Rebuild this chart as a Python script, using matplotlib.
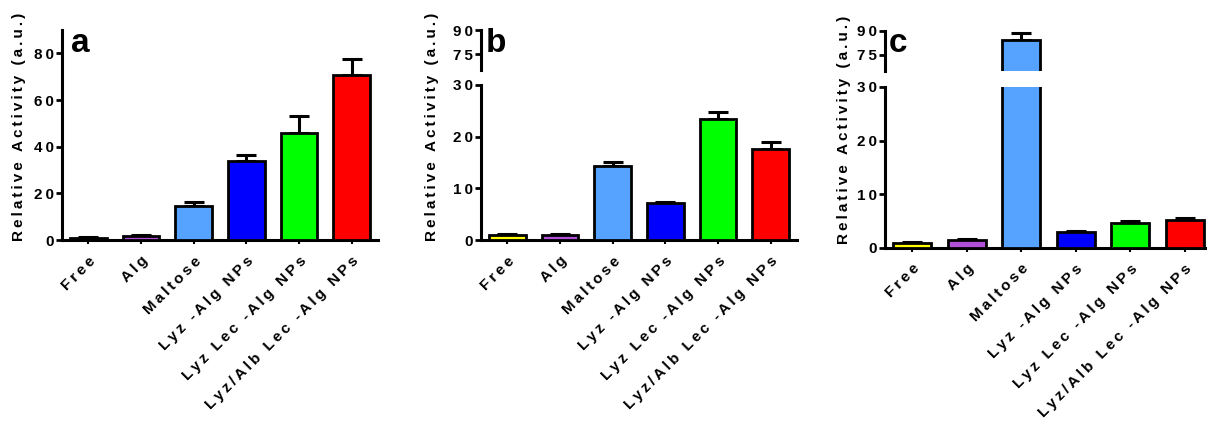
import numpy as np
import matplotlib
matplotlib.use('Agg')
import matplotlib.pyplot as plt

plt.rcParams['font.family'] = ['Liberation Sans', 'DejaVu Sans']
plt.rcParams['font.weight'] = 'bold'

categories = ['Free', 'Alg', 'Maltose', 'Lyz -Alg NPs', 'Lyz Lec -Alg NPs',
              'Lyz/Alb Lec -Alg NPs']
colors = ['#FFFF00', '#B04FD8', '#56A2FF', '#0000FF', '#00FF00', '#FF0000']

vals_a = [1.0, 1.8, 14.4, 33.7, 45.7, 70.8]
err_a = [0.3, 0.4, 2.0, 2.8, 7.4, 6.6]
vals_b = [1.0, 1.0, 14.3, 7.1, 23.5, 17.6]
err_b = [0.2, 0.2, 0.8, 0.3, 1.3, 1.4]
vals_c = [0.9, 1.35, 84.4, 2.9, 4.6, 5.1]
err_c = [0.2, 0.25, 4.1, 0.2, 0.3, 0.4]

W, H = 1207, 421
TS = '\u2009'  # letter tracking like Prism
FS = 11


def spaced(s):
    return TS.join(s)


def px_axes(fig, left, top, width, bottom):
    """axes rectangle given in image pixels (y measured from top)"""
    return fig.add_axes([left / W, (H - bottom) / H, width / W, (bottom - top) / H])


def style(ax, ticks, show_x):
    for s in ('top', 'right'):
        ax.spines[s].set_visible(False)
    for s in ('left', 'bottom'):
        ax.spines[s].set_linewidth(2.2)
    ax.set_xlim(-0.5, 5.5)
    ax.set_yticks(ticks)
    ax.set_yticklabels([spaced(str(t)) for t in ticks])
    ax.tick_params(axis='y', length=4, width=2, pad=2, labelsize=FS)
    if show_x:
        ax.set_xticks(range(len(categories)))
        ax.set_xticklabels([spaced(c) for c in categories], rotation=45,
                           ha='right', va='top', rotation_mode='anchor',
                           fontsize=FS)
        ax.tick_params(axis='x', length=3, width=1.5, pad=7)
    else:
        ax.spines['bottom'].set_visible(False)
        ax.set_xticks([])


def bars(ax, vals, errs):
    x = np.arange(len(vals))
    ax.bar(x, vals, width=0.7, color=colors, edgecolor='black', linewidth=2,
           zorder=3)
    ax.errorbar(x, vals, yerr=[np.zeros(len(errs)), errs], fmt='none',
                ecolor='black', elinewidth=2.2, capsize=7, capthick=2.2, zorder=2)


fig = plt.figure(figsize=(W / 100, H / 100), dpi=100, facecolor='white')

# panel a
ax_a = px_axes(fig, 62, 30, 316, 240)
bars(ax_a, vals_a, err_a)
ax_a.set_ylim(0, 90)
style(ax_a, [0, 20, 40, 60, 80], True)

# panel b (broken axis)
ax_b = px_axes(fig, 481, 85, 316, 240)
bars(ax_b, vals_b, err_b)
ax_b.set_ylim(0, 30)
style(ax_b, [0, 10, 20, 30], True)
ax_bt = px_axes(fig, 481, 30, 316, 70)
bars(ax_bt, vals_b, err_b)
ax_bt.set_ylim(65, 90)
style(ax_bt, [75, 90], False)

# panel c (broken axis)
ax_c = px_axes(fig, 885, 87, 327, 247.5)
bars(ax_c, vals_c, err_c)
ax_c.set_ylim(0, 30)
style(ax_c, [0, 10, 20, 30], True)
ax_ct = px_axes(fig, 885, 31, 327, 71)
bars(ax_ct, vals_c, err_c)
ax_ct.set_ylim(65, 90)
style(ax_ct, [75, 90], False)

ylab = spaced('Relative Activity (a.u.)')
for x, y in ((19, 127), (432, 127), (844, 130)):
    fig.text(x / W, 1 - y / H, ylab, rotation=90, ha='center', va='center',
             fontsize=FS, fontweight='bold')

for lab, x, y in (('a', 71, 52), ('b', 486, 52), ('c', 889, 52)):
    fig.text(x / W, 1 - y / H, lab, ha='left', va='baseline', fontsize=24,
             fontweight='bold')

fig.savefig('out.png', dpi=100, facecolor='white')
